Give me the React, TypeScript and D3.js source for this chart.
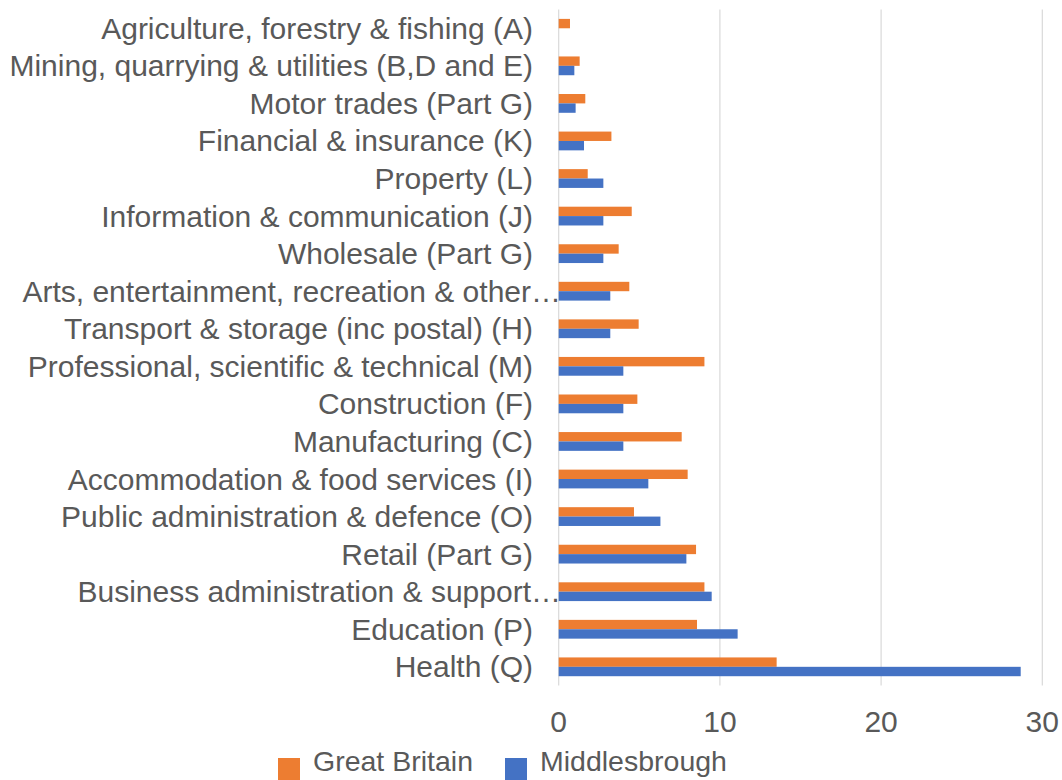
import React from "react";
import * as d3 from "d3";

const categories = [
  "Agriculture, forestry & fishing (A)",
  "Mining, quarrying & utilities (B,D and E)",
  "Motor trades (Part G)",
  "Financial & insurance (K)",
  "Property (L)",
  "Information & communication (J)",
  "Wholesale (Part G)",
  "Arts, entertainment, recreation & other…",
  "Transport & storage (inc postal) (H)",
  "Professional, scientific & technical (M)",
  "Construction (F)",
  "Manufacturing (C)",
  "Accommodation & food services (I)",
  "Public administration & defence (O)",
  "Retail (Part G)",
  "Business administration & support…",
  "Education (P)",
  "Health (Q)",
];

const greatBritain = [0.7, 1.3, 1.65, 3.27, 1.8, 4.53, 3.72, 4.38, 4.96, 9.04, 4.88, 7.63, 8.0, 4.67, 8.52, 9.04, 8.58, 13.52];
const middlesbrough = [0, 0.97, 1.05, 1.57, 2.77, 2.77, 2.77, 3.2, 3.2, 4.01, 4.01, 4.01, 5.56, 6.31, 7.92, 9.49, 11.1, 28.66];

const seriesNames = ["Great Britain", "Middlesbrough"];
const seriesColors = ["#ED7D31", "#4472C4"];
const xTicks = [0, 10, 20, 30];

const W = 1062;
const H = 780;
const FONT = "'Liberation Sans', Arial, sans-serif";
const TEXT = "#595959";

export default function App() {
  const x = d3.scaleLinear().domain([0, 30]).range([558.7, 1042.3]);
  const y = d3.scaleBand<string>().domain(categories).range([9.5, 685.6]).padding(0);
  const bw = y.bandwidth();
  const sub = d3.scaleBand<string>().domain(seriesNames).range([bw / 4, (3 * bw) / 4]).padding(0);
  const values = [greatBritain, middlesbrough];

  return (
    <svg width={W} height={H} style={{ position: "absolute", left: 0, top: 0, background: "#fff" }} fontFamily={FONT}>
      <rect x={0} y={0} width={W} height={H} fill="#fff" />
      {categories.map((c) => (
        <text
          key={"lab" + c}
          x={c.endsWith("…") ? 561 : 533}
          y={(y(c) as number) + bw / 2}
          dy="0.35em"
          textAnchor="end"
          fontSize={30}
          fill={TEXT}
        >
          {c}
        </text>
      ))}
      {xTicks.map((t) => (
        <line key={"g" + t} x1={x(t)} x2={x(t)} y1={9.5} y2={685.6} stroke="#d9d9d9" strokeWidth={1.2} />
      ))}
      {categories.map((c, i) => (
        <g key={c}>
          {seriesNames.map((s, k) => (
            <rect
              key={s}
              x={x(0)}
              y={(y(c) as number) + (sub(s) as number)}
              width={x(values[k][i]) - x(0)}
              height={sub.bandwidth()}
              fill={seriesColors[k]}
            />
          ))}
        </g>
      ))}
      {xTicks.map((t) => (
        <text key={"t" + t} x={x(t)} y={732} textAnchor="middle" fontSize={30} fill={TEXT}>
          {t}
        </text>
      ))}
      {seriesNames.map((s, k) => {
        const lx = [278, 505][k];
        return (
          <g key={"l" + s}>
            <rect x={lx} y={758} width={22} height={22} fill={seriesColors[k]} />
            <text x={lx + 35} y={771} fontSize={28.5} fill={TEXT}>
              {s}
            </text>
          </g>
        );
      })}
    </svg>
  );
}
